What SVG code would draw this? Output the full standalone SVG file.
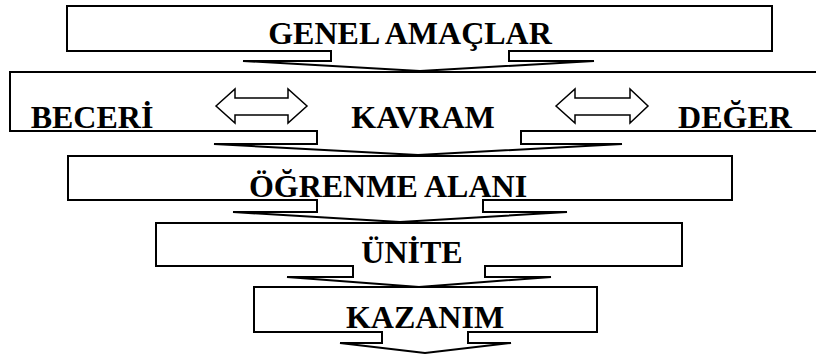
<svg xmlns="http://www.w3.org/2000/svg" width="816" height="354" viewBox="0 0 816 354">
  <style>
    .box { fill: #ffffff; stroke: #000000; stroke-width: 2; stroke-linejoin: miter; }
    .dbl { fill: #ffffff; stroke: #000000; stroke-width: 1.5; stroke-linejoin: miter; }
    .lbl { font-family: "Liberation Serif", "Times New Roman", serif; font-weight: bold; font-size: 32px; fill: #000000; text-anchor: middle; }
  </style>
  <rect x="0" y="0" width="816" height="354" fill="#ffffff"/>

  <!-- boxes drawn top to bottom so each lower box sits over the arrow tip above it -->
  <g id="genel-amaclar">
    <path class="box" d="M67,6 H772 V51 H509 V61 H594 L420,71 L243,61 H331 V51 H67 Z"/>
    <text class="lbl" x="410" y="44">GENEL AMAÇLAR</text>
  </g>

  <g id="beceri-kavram-deger">
    <path class="box" d="M10,72 H830 V131 H521 V144 H622 L418,155 L214,144 H317 V131 H10 Z"/>
    <text class="lbl" x="92" y="128">BECERİ</text>
    <text class="lbl" x="423" y="128">KAVRAM</text>
    <text class="lbl" x="735" y="128">DEĞER</text>
  </g>

  <g id="connectors">
    <path class="dbl" d="M216,106 L235,89 V98 H288 V89 L307,106 L288,123 V115 H235 V123 Z"/>
    <path class="dbl" d="M556,106 L575,89 V98 H630 V89 L648,106 L630,123 V115 H575 V123 Z"/>
  </g>

  <g id="ogrenme-alani">
    <path class="box" d="M68,156 H732 V200 H483 V212 H567 L400,222 L233,212 H317 V200 H68 Z"/>
    <text class="lbl" x="388" y="197">ÖĞRENME ALANI</text>
  </g>

  <g id="unite">
    <path class="box" d="M156,223 H682 V266 H485 V277 H551 L419,287 L287,277 H353 V266 H156 Z"/>
    <text class="lbl" x="412" y="263">ÜNİTE</text>
  </g>

  <g id="kazanim">
    <path class="box" d="M254,287 H597 V332 H468 V343 H511 L425,353 L340,343 H382 V332 H254 Z"/>
    <text class="lbl" x="425" y="328">KAZANIM</text>
  </g>
</svg>
